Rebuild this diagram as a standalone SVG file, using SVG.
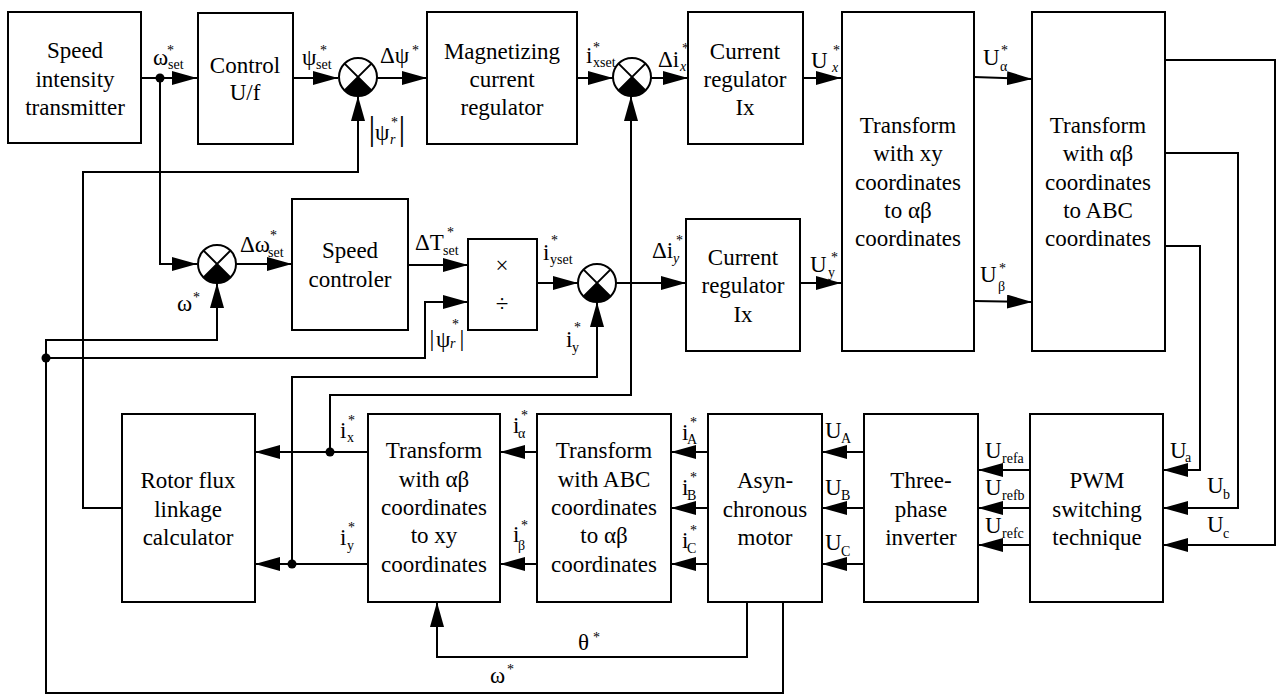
<svg xmlns="http://www.w3.org/2000/svg" width="1277" height="695" viewBox="0 0 1277 695">
<style>
.b{fill:#fff;stroke:#000;stroke-width:2}
.t{font-family:"Liberation Serif","Times New Roman",Times,"DejaVu Serif",serif;font-size:23px;text-anchor:middle;fill:#000}
.l{font-family:"Liberation Serif","Times New Roman",Times,"DejaVu Serif",serif;font-size:23px;fill:#000}
.s{font-family:"Liberation Serif","Times New Roman",Times,"DejaVu Serif",serif;font-size:14px;fill:#000}
.it{font-style:italic}
.c{fill:none;stroke:#000;stroke-width:2}
.a{fill:none;stroke:#000;stroke-width:2;marker-end:url(#ar)}
.d{fill:#000}
</style>
<defs>
<marker id="ar" viewBox="0 0 25 14" refX="25" refY="7" markerWidth="25" markerHeight="14" markerUnits="userSpaceOnUse" orient="auto">
<path d="M0,0 L25,7 L0,14 z" fill="#000"/>
</marker>
<g id="sum">
<circle r="19" cx="0" cy="0" fill="#fff" stroke="#000" stroke-width="2"/>
<path d="M0,0 L-13.4,13.4 A19,19 0 0 0 13.4,13.4 Z" fill="#000"/>
<path d="M-13.4,-13.4 L13.4,13.4 M13.4,-13.4 L-13.4,13.4" stroke="#000" stroke-width="2"/>
</g>
</defs>
<rect width="1277" height="695" fill="#fff"/>

<g id="connectors">
<polyline class="a" points="141,78 197,78"/>
<polyline class="a" points="293,78 338,78"/>
<polyline class="a" points="377,78 427,78"/>
<polyline class="a" points="577,78 613,78"/>
<polyline class="a" points="651,78 688,78"/>
<polyline class="a" points="803,78 841,78"/>
<polyline class="a" points="974,77 1032,79"/>
<polyline class="a" points="974,301 1032,302"/>
<polyline class="a" points="160,78 160,264 197,264"/>
<polyline class="a" points="236,264 292,264"/>
<polyline class="a" points="408,265 468,265"/>
<polyline class="a" points="537,283 578,283"/>
<polyline class="a" points="616,283 686,283"/>
<polyline class="a" points="800,283 841,283"/>
<polyline class="a" points="122,508 83,508 83,172 358,172 358,96"/>
<polyline class="a" points="783,602 783,693 46,693 46,340 217,340 217,283"/>
<polyline class="a" points="46,358 425,358 425,302 468,302"/>
<polyline class="a" points="368,452 255,452"/>
<polyline class="a" points="330,452 330,395 631,395 631,96"/>
<polyline class="a" points="368,564 255,564"/>
<polyline class="a" points="292,564 292,377 597,377 597,302"/>
<polyline class="a" points="537,452 500,452"/>
<polyline class="a" points="537,564 500,564"/>
<polyline class="a" points="708,452 671,452"/>
<polyline class="a" points="708,508 671,508"/>
<polyline class="a" points="708,564 671,564"/>
<polyline class="a" points="864,452 822,452"/>
<polyline class="a" points="864,508 822,508"/>
<polyline class="a" points="864,564 822,564"/>
<polyline class="a" points="1030,470 978,470"/>
<polyline class="a" points="1030,508 978,508"/>
<polyline class="a" points="1030,545 978,545"/>
<polyline class="a" points="1165,60 1275,60 1275,545 1163,545"/>
<polyline class="a" points="1165,153 1238,153 1238,508 1163,508"/>
<polyline class="a" points="1165,246 1200,246 1200,470 1163,470"/>
<polyline class="a" points="747,602 747,657 437,657 437,602"/>
<circle class="d" cx="160" cy="78" r="4.5"/>
<circle class="d" cx="46" cy="358" r="4.5"/>
<circle class="d" cx="330" cy="452" r="4.5"/>
<circle class="d" cx="292" cy="564" r="4.5"/>
</g>

<g id="labels">
<text class="l" x="153" y="65">ω</text><text class="s" x="167" y="55">*</text><text class="s" x="168" y="69">set</text>
<text class="l" x="302" y="65">ψ</text><text class="s" x="320" y="55">*</text><text class="s" x="316" y="69">set</text>
<text class="l" x="380" y="63">Δψ</text><text class="s" x="412" y="55">*</text>
<text class="l" x="368.6" y="140" style="font-size:34px">|</text><text class="l" x="375" y="140">ψ</text><text class="s" x="391" y="127">*</text><text class="s it" x="390" y="144">r</text><text class="l" x="398.6" y="140" style="font-size:34px">|</text>
<text class="l" x="586" y="63">i</text><text class="s" x="593" y="52">*</text><text class="s" x="593" y="67">xset</text>
<text class="l" x="658" y="67">Δi</text><text class="s" x="682" y="53">*</text><text class="s it" x="680" y="71">x</text>
<text class="l" x="811" y="68">U</text><text class="s" x="833" y="55">*</text><text class="s it" x="832" y="72">x</text>
<text class="l" x="983" y="65">U</text><text class="s" x="1001" y="55">*</text><text class="s" x="1000" y="71">α</text>
<text class="l" x="980" y="282">U</text><text class="s" x="999" y="273">*</text><text class="s" x="998" y="291">β</text>
<text class="l" x="240" y="252">Δω</text><text class="s" x="270" y="240">*</text><text class="s" x="268" y="257">set</text>
<text class="l" x="177" y="311">ω</text><text class="s" x="193" y="302">*</text>
<text class="l" x="415" y="250">ΔT</text><text class="s" x="447" y="237">*</text><text class="s" x="443" y="255">set</text>
<text class="l" x="429.5" y="346" style="font-size:24px">|</text><text class="l" x="436" y="347">ψ</text><text class="s" x="452" y="329">*</text><text class="s it" x="450" y="348">r</text><text class="l" x="459.5" y="346" style="font-size:24px">|</text>
<text class="l" x="543" y="260">i</text><text class="s" x="551" y="245">*</text><text class="s" x="550" y="264">yset</text>
<text class="l" x="652" y="258">Δi</text><text class="s" x="676" y="245">*</text><text class="s it" x="673" y="263">y</text>
<text class="l" x="810" y="272">U</text><text class="s" x="831" y="262">*</text><text class="s" x="828" y="277">y</text>
<text class="l" x="566" y="347">i</text><text class="s" x="574" y="332">*</text><text class="s" x="572" y="352">y</text>
<text class="l" x="340" y="438">i</text><text class="s" x="348" y="425">*</text><text class="s" x="347" y="442">x</text>
<text class="l" x="340" y="545">i</text><text class="s" x="348" y="532">*</text><text class="s" x="347" y="550">y</text>
<text class="l" x="513" y="433">i</text><text class="s" x="521" y="420">*</text><text class="s" x="518" y="438">α</text>
<text class="l" x="513" y="542">i</text><text class="s" x="521" y="530">*</text><text class="s" x="518" y="550">β</text>
<text class="l" x="682" y="440">i</text><text class="s" x="690" y="427">*</text><text class="s" x="687" y="444">A</text>
<text class="l" x="682" y="495">i</text><text class="s" x="690" y="482">*</text><text class="s" x="687" y="500">B</text>
<text class="l" x="682" y="548">i</text><text class="s" x="690" y="535">*</text><text class="s" x="687" y="553">C</text>
<text class="l" x="825" y="438">U</text><text class="s" x="841" y="443">A</text>
<text class="l" x="825" y="495">U</text><text class="s" x="841" y="500">B</text>
<text class="l" x="825" y="550">U</text><text class="s" x="841" y="556">C</text>
<text class="l" x="985" y="458">U</text><text class="s" x="1002" y="463">refa</text>
<text class="l" x="985" y="495">U</text><text class="s" x="1002" y="500">refb</text>
<text class="l" x="985" y="533">U</text><text class="s" x="1002" y="538">refc</text>
<text class="l" x="1170" y="458">U</text><text class="s" x="1185" y="462">a</text>
<text class="l" x="1207" y="493">U</text><text class="s" x="1223" y="499">b</text>
<text class="l" x="1207" y="532">U</text><text class="s" x="1223" y="538">c</text>
<text class="l" x="578" y="650">θ</text><text class="s" x="593" y="642">*</text>
<text class="l" x="490" y="683">ω</text><text class="s" x="507" y="674">*</text>
</g>

<g id="sum1"><use href="#sum" x="358" y="77"/></g>
<g id="sum2"><use href="#sum" x="632" y="77"/></g>
<g id="sum3"><use href="#sum" x="217" y="264"/></g>
<g id="sum4"><use href="#sum" x="597" y="283"/></g>

<g id="speed-intensity"><rect class="b" x="8" y="12" width="133" height="131"/>
<text class="t" x="75" y="58">Speed</text><text class="t" x="75" y="87">intensity</text><text class="t" x="75" y="115">transmitter</text></g>
<g id="control-uf"><rect class="b" x="198" y="13" width="95" height="131"/>
<text class="t" x="245" y="73">Control</text><text class="t" x="245" y="100">U/f</text></g>
<g id="magnetizing"><rect class="b" x="427" y="12" width="150" height="132"/>
<text class="t" x="502" y="59">Magnetizing</text><text class="t" x="502" y="87">current</text><text class="t" x="502" y="115">regulator</text></g>
<g id="current-reg-x"><rect class="b" x="688" y="12" width="115" height="132"/>
<text class="t" x="745" y="59">Current</text><text class="t" x="745" y="87">regulator</text><text class="t" x="745" y="115">Ix</text></g>
<g id="transform-xy-ab"><rect class="b" x="842" y="12" width="132" height="339"/>
<text class="t" x="908" y="133">Transform</text><text class="t" x="908" y="161">with xy</text><text class="t" x="908" y="190">coordinates</text><text class="t" x="908" y="218">to αβ</text><text class="t" x="908" y="246">coordinates</text></g>
<g id="transform-ab-abc"><rect class="b" x="1032" y="12" width="133" height="339"/>
<text class="t" x="1098" y="133">Transform</text><text class="t" x="1098" y="161">with αβ</text><text class="t" x="1098" y="190">coordinates</text><text class="t" x="1098" y="218">to ABC</text><text class="t" x="1098" y="246">coordinates</text></g>
<g id="speed-controler"><rect class="b" x="292" y="199" width="116" height="131"/>
<text class="t" x="350" y="258">Speed</text><text class="t" x="350" y="287">controler</text></g>
<g id="muldiv"><rect class="b" x="468" y="239" width="69" height="91"/>
<text class="t" x="502" y="273">×</text><text class="t" x="502" y="311">÷</text></g>
<g id="current-reg-y"><rect class="b" x="686" y="219" width="114" height="132"/>
<text class="t" x="743" y="265">Current</text><text class="t" x="743" y="293">regulator</text><text class="t" x="743" y="322">Ix</text></g>
<g id="rotor-flux"><rect class="b" x="122" y="414" width="133" height="188"/>
<text class="t" x="188" y="488">Rotor flux</text><text class="t" x="188" y="517">linkage</text><text class="t" x="188" y="545">calculator</text></g>
<g id="transform-ab-xy"><rect class="b" x="368" y="414" width="132" height="188"/>
<text class="t" x="434" y="458">Transform</text><text class="t" x="434" y="487">with αβ</text><text class="t" x="434" y="515">coordinates</text><text class="t" x="434" y="543">to xy</text><text class="t" x="434" y="572">coordinates</text></g>
<g id="transform-abc-ab"><rect class="b" x="537" y="414" width="134" height="188"/>
<text class="t" x="604" y="458">Transform</text><text class="t" x="604" y="487">with ABC</text><text class="t" x="604" y="515">coordinates</text><text class="t" x="604" y="543">to αβ</text><text class="t" x="604" y="572">coordinates</text></g>
<g id="motor"><rect class="b" x="708" y="414" width="114" height="188"/>
<text class="t" x="765" y="488">Asyn-</text><text class="t" x="765" y="517">chronous</text><text class="t" x="765" y="545">motor</text></g>
<g id="inverter"><rect class="b" x="864" y="414" width="114" height="188"/>
<text class="t" x="921" y="488">Three-</text><text class="t" x="921" y="517">phase</text><text class="t" x="921" y="545">inverter</text></g>
<g id="pwm"><rect class="b" x="1030" y="414" width="133" height="188"/>
<text class="t" x="1097" y="488">PWM</text><text class="t" x="1097" y="517">switching</text><text class="t" x="1097" y="545">technique</text></g>
</svg>
